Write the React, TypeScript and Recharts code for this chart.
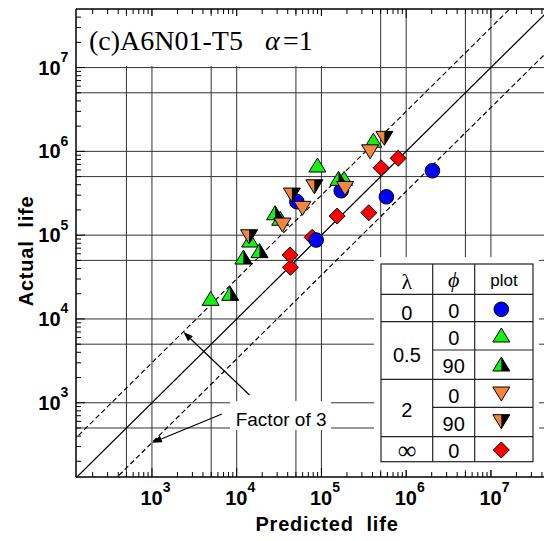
import { ScatterChart, Scatter, XAxis, YAxis, ReferenceLine } from 'recharts';

const sans = '"Liberation Sans", Arial, sans-serif';
const serif = '"Liberation Serif", "Times New Roman", serif';

const lam0Predicted = [8.67e4, 5.13e4, 1.71e5, 5.84e5, 2.04e6];
const lam0Actual = [8.75e4, 2.51e5, 3.39e5, 2.87e5, 5.87e5];

const lam05Phi0Predicted = [4.93e3, 1.44e4, 3.26e4, 8.97e4, 1.85e5, 4.1e5];
const lam05Phi0Actual = [1.76e4, 8.75e4, 1.59e5, 6.87e5, 4.76e5, 1.36e6];

const lam05Phi90Predicted = [8.37e3, 1.2e4, 1.86e4, 2.84e4, 1.59e5];
const lam05Phi90Actual = [2.02e4, 5.48e4, 6.54e4, 1.85e5, 4.76e5];

const lam2Phi0Predicted = [3.47e4, 5.97e4, 1.9e5, 3.75e5];
const lam2Phi0Actual = [1.32e5, 2.09e5, 3.61e5, 9.88e5];

const lam2Phi90Predicted = [1.4e4, 4.48e4, 8.26e4, 5.53e5];
const lam2Phi90Actual = [9.57e4, 3.01e5, 3.78e5, 1.43e6];

const lamInfPredicted = [4.31e4, 4.27e4, 7.77e4, 1.53e5, 3.62e5, 5.06e5, 8.04e5];
const lamInfActual = [4.13e4, 5.79e4, 9.42e4, 1.69e5, 1.85e5, 6.37e5, 8.26e5];

const labelDecades = [1e3, 1e4, 1e5, 1e6, 1e7];
const gridValues = [5e2, 1e3, 5e3, 1e4, 5e4, 1e5, 5e5, 1e6, 5e6, 1e7];
const tickMultipliers = [1, 2, 3, 4, 5, 6, 7, 8, 9];
const tickExponents = [2, 3, 4, 5, 6, 7];

const xDomain = [127, 4.23e7];
const yDomain = [130, 5e7];

// factor-of-3 arrows: [tail, head]
const arrowUpper = [{ x: 1.416e4, y: 1236 }, { x: 2340, y: 7020 }];
const arrowLower = [{ x: 6700, y: 733 }, { x: 1000, y: 333 }];

const GREEN = '#14f014';
const ORANGE = '#f5843f';
const BLUE = '#0000ff';
const RED = '#ff0000';

const logTicks = (lo: number, hi: number) =>
  tickExponents.flatMap((n) => tickMultipliers.map((k) => k * 10 ** n)).filter((v) => v > lo && v < hi);

const xTicks = logTicks(xDomain[0], xDomain[1]);
const yTicks = logTicks(yDomain[0], yDomain[1]);

const pts = (xs: number[], ys: number[]) => xs.map((x, i) => ({ x, y: ys[i] }));

const isDecade = (v: number) => Math.abs(Math.log10(v) - Math.round(Math.log10(v))) < 1e-9;

function BottomTick(props: any) {
  const { x, y, payload } = props;
  const v = payload.value;
  const major = isDecade(v);
  return (
    <g>
      <line x1={x} x2={x} y1={y} y2={y - (major ? 9 : 5)} stroke="#000" />
      {labelDecades.includes(v) && (
        <text x={x - 11.5} y={y + 27.7} fontFamily={sans} fontWeight="bold" fontSize={20} fill="#000">
          10
          <tspan dy={-12.5} fontSize={14}>
            {Math.round(Math.log10(v))}
          </tspan>
        </text>
      )}
    </g>
  );
}

function TopTick(props: any) {
  const { x, y, payload } = props;
  const major = isDecade(payload.value);
  return <line x1={x} x2={x} y1={y} y2={y + (major ? 9 : 5)} stroke="#000" />;
}

function LeftTick(props: any) {
  const { x, y, payload } = props;
  const v = payload.value;
  const major = isDecade(v);
  return (
    <g>
      <line x1={x} x2={x + (major ? 9 : 5)} y1={y} y2={y} stroke="#000" />
      {labelDecades.includes(v) && (
        <text x={x - 37.7} y={y + 7} fontFamily={sans} fontWeight="bold" fontSize={20} fill="#000">
          10
          <tspan dy={-12.5} fontSize={14}>
            {Math.round(Math.log10(v))}
          </tspan>
        </text>
      )}
    </g>
  );
}

function Arrow(props: any) {
  const { x1, y1, x2, y2 } = props;
  const a = Math.atan2(y2 - y1, x2 - x1);
  const len = 10;
  const w = 3.5;
  const bx = x2 - len * Math.cos(a);
  const by = y2 - len * Math.sin(a);
  const px = -Math.sin(a) * w;
  const py = Math.cos(a) * w;
  return (
    <g>
      <line x1={x1} y1={y1} x2={bx} y2={by} stroke="#000" strokeWidth={1.2} />
      <polygon points={`${x2},${y2} ${bx + px},${by + py} ${bx - px},${by - py}`} fill="#000" />
    </g>
  );
}

const Dot = ({ cx, cy }: any) => <circle cx={cx} cy={cy} r={7.3} fill={BLUE} stroke="#000" strokeWidth={1} />;

const Up = ({ cx, cy, fill, half }: any) => (
  <g>
    <polygon points={`${cx},${cy - 7} ${cx + 8.5},${cy + 7} ${cx - 8.5},${cy + 7}`} fill={fill} stroke="#000" strokeWidth={1} />
    {half && <polygon points={`${cx},${cy - 7} ${cx + 8.5},${cy + 7} ${cx},${cy + 7}`} fill="#000" />}
  </g>
);

const Down = ({ cx, cy, fill, half }: any) => (
  <g>
    <polygon points={`${cx - 8.5},${cy - 7} ${cx + 8.5},${cy - 7} ${cx},${cy + 7}`} fill={fill} stroke="#000" strokeWidth={1} />
    {half && <polygon points={`${cx},${cy - 7} ${cx + 8.5},${cy - 7} ${cx},${cy + 7}`} fill="#000" />}
  </g>
);

const Diamond = ({ cx, cy }: any) => (
  <polygon points={`${cx},${cy - 8} ${cx + 8},${cy} ${cx},${cy + 8} ${cx - 8},${cy}`} fill={RED} stroke="#000" strokeWidth={1} />
);

function Legend() {
  const L = 381, C1 = 432.7, C2 = 474.7, R = 533, T = 264, B = 461.7;
  const mx = 504;
  const numStyle = { fontFamily: sans, fontSize: 20, fill: '#000', textAnchor: 'middle' as const };
  return (
    <g>
      <rect x={374} y={257} width={165} height={213} fill="#fff" />
      <rect x={L} y={T} width={R - L} height={B - T} fill="none" stroke="#222" strokeWidth={1.2} />
      <line x1={C1} x2={C1} y1={T} y2={B} stroke="#222" strokeWidth={1.2} />
      <line x1={C2} x2={C2} y1={T} y2={B} stroke="#222" strokeWidth={1.2} />
      {[294.3, 321.7, 379.3, 436.7].map((y) => (
        <line key={y} x1={L} x2={R} y1={y} y2={y} stroke="#222" strokeWidth={1.2} />
      ))}
      {[350, 407.3].map((y) => (
        <line key={y} x1={C1} x2={R} y1={y} y2={y} stroke="#222" strokeWidth={1.2} />
      ))}
      <text x={406.9} y={289} fontFamily={serif} fontSize={22} textAnchor="middle">λ</text>
      <text x={453.7} y={287} fontFamily={serif} fontStyle="italic" fontSize={22} textAnchor="middle">ϕ</text>
      <text x={mx} y={286} fontFamily={sans} fontSize={17} textAnchor="middle">plot</text>

      <text x={406.9} y={319.5} {...numStyle}>0</text>
      <text x={406.9} y={361.7} {...numStyle}>0.5</text>
      <text x={406.9} y={416.7} {...numStyle}>2</text>
      <text x={406.9} y={459} fontFamily={serif} fontSize={26} textAnchor="middle">∞</text>

      <text x={453.7} y={318} {...numStyle}>0</text>
      <text x={453.7} y={345} {...numStyle}>0</text>
      <text x={453.7} y={373.3} {...numStyle}>90</text>
      <text x={453.7} y={403.3} {...numStyle}>0</text>
      <text x={453.7} y={430.7} {...numStyle}>90</text>
      <text x={453.7} y={458.3} {...numStyle}>0</text>

      <Dot cx={501.3} cy={309.3} />
      <Up cx={501.3} cy={335} fill={GREEN} />
      <Up cx={501.3} cy={364} fill={GREEN} half />
      <Down cx={501.3} cy={394} fill={ORANGE} />
      <Down cx={501.3} cy={421.7} fill={ORANGE} half />
      <Diamond cx={501.3} cy={450} />
    </g>
  );
}

function Overlay() {
  return (
    <svg width={544} height={541} style={{ position: 'absolute', left: 0, top: 0, pointerEvents: 'none' }}>
      <rect x={84} y={16} width={242} height={50} fill="#fff" />
      <text x={89} y={50} fontFamily={serif} fontSize={28} fill="#000">(c)A6N01-T5</text>
      <text x={265} y={50} fontFamily={serif} fontStyle="italic" fontSize={28} fill="#000">α</text>
      <text x={283} y={50} fontFamily={serif} fontSize={28} fill="#000">=1</text>

      <rect x={230} y={401} width={101} height={29} fill="#fff" />
      <text x={235.7} y={426} fontFamily={sans} fontSize={19} fill="#000">Factor of 3</text>

      <Legend />

      <text x={327} y={531} fontFamily={sans} fontWeight="bold" fontSize={20} letterSpacing={0.8} textAnchor="middle" style={{ whiteSpace: 'pre' }}>
        Predicted  life
      </text>
      <text
        x={33}
        y={251}
        transform="rotate(-90 33 251)"
        fontFamily={sans}
        fontWeight="bold"
        fontSize={20}
        letterSpacing={0.8}
        textAnchor="middle"
        style={{ whiteSpace: 'pre' }}
      >
        Actual  life
      </text>
    </svg>
  );
}

export default function App() {
  return (
    <div style={{ position: 'absolute', left: 0, top: 0, width: 544, height: 541, background: '#fff' }}>
      <ScatterChart width={544} height={541} margin={{ top: 8, right: 0, bottom: 0, left: 0 }}>
        <XAxis
          type="number"
          dataKey="x"
          scale="log"
          domain={xDomain}
          allowDataOverflow
          ticks={xTicks}
          interval={0}
          tick={<BottomTick />}
          tickLine={false}
          tickSize={0}
          tickMargin={0}
          height={64}
          axisLine={{ stroke: '#000', strokeWidth: 1.5 }}
        />
        <XAxis
          xAxisId="top"
          orientation="top"
          type="number"
          dataKey="x"
          scale="log"
          domain={xDomain}
          allowDataOverflow
          ticks={xTicks}
          interval={0}
          tick={<TopTick />}
          tickLine={false}
          tickSize={0}
          tickMargin={0}
          height={1}
          axisLine={{ stroke: '#000', strokeWidth: 1.5 }}
        />
        <YAxis
          type="number"
          dataKey="y"
          scale="log"
          domain={yDomain}
          allowDataOverflow
          ticks={yTicks}
          interval={0}
          tick={<LeftTick />}
          tickLine={false}
          tickSize={0}
          tickMargin={0}
          width={76}
          axisLine={{ stroke: '#000', strokeWidth: 1.5 }}
        />
        {gridValues.map((v) => (
          <ReferenceLine key={`gx${v}`} x={v} stroke="#333" strokeWidth={1} />
        ))}
        {gridValues.map((v) => (
          <ReferenceLine key={`gy${v}`} y={v} stroke="#333" strokeWidth={1} />
        ))}
        <ReferenceLine segment={[{ x: 100, y: 100 }, { x: 1e8, y: 1e8 }]} ifOverflow="hidden" stroke="#000" strokeWidth={1.3} />
        <ReferenceLine segment={[{ x: 100, y: 300 }, { x: 3e7, y: 9e7 }]} ifOverflow="hidden" stroke="#000" strokeWidth={1.2} strokeDasharray="5 3" />
        <ReferenceLine segment={[{ x: 300, y: 100 }, { x: 1.5e8, y: 5e7 }]} ifOverflow="hidden" stroke="#000" strokeWidth={1.2} strokeDasharray="5 3" />
        <ReferenceLine segment={arrowUpper} shape={(p: any) => <Arrow {...p} />} />
        <ReferenceLine segment={arrowLower} shape={(p: any) => <Arrow {...p} />} />

        <Scatter data={pts(lamInfPredicted, lamInfActual)} isAnimationActive={false} shape={(p: any) => <Diamond cx={p.cx} cy={p.cy} />} />
        <Scatter data={pts(lam0Predicted, lam0Actual)} isAnimationActive={false} shape={(p: any) => <Dot cx={p.cx} cy={p.cy} />} />
        <Scatter data={pts(lam05Phi0Predicted, lam05Phi0Actual)} isAnimationActive={false} shape={(p: any) => <Up cx={p.cx} cy={p.cy} fill={GREEN} />} />
        <Scatter data={pts(lam05Phi90Predicted, lam05Phi90Actual)} isAnimationActive={false} shape={(p: any) => <Up cx={p.cx} cy={p.cy} fill={GREEN} half />} />
        <Scatter data={pts(lam2Phi0Predicted, lam2Phi0Actual)} isAnimationActive={false} shape={(p: any) => <Down cx={p.cx} cy={p.cy} fill={ORANGE} />} />
        <Scatter data={pts(lam2Phi90Predicted, lam2Phi90Actual)} isAnimationActive={false} shape={(p: any) => <Down cx={p.cx} cy={p.cy} fill={ORANGE} half />} />
      </ScatterChart>
      <Overlay />
    </div>
  );
}
